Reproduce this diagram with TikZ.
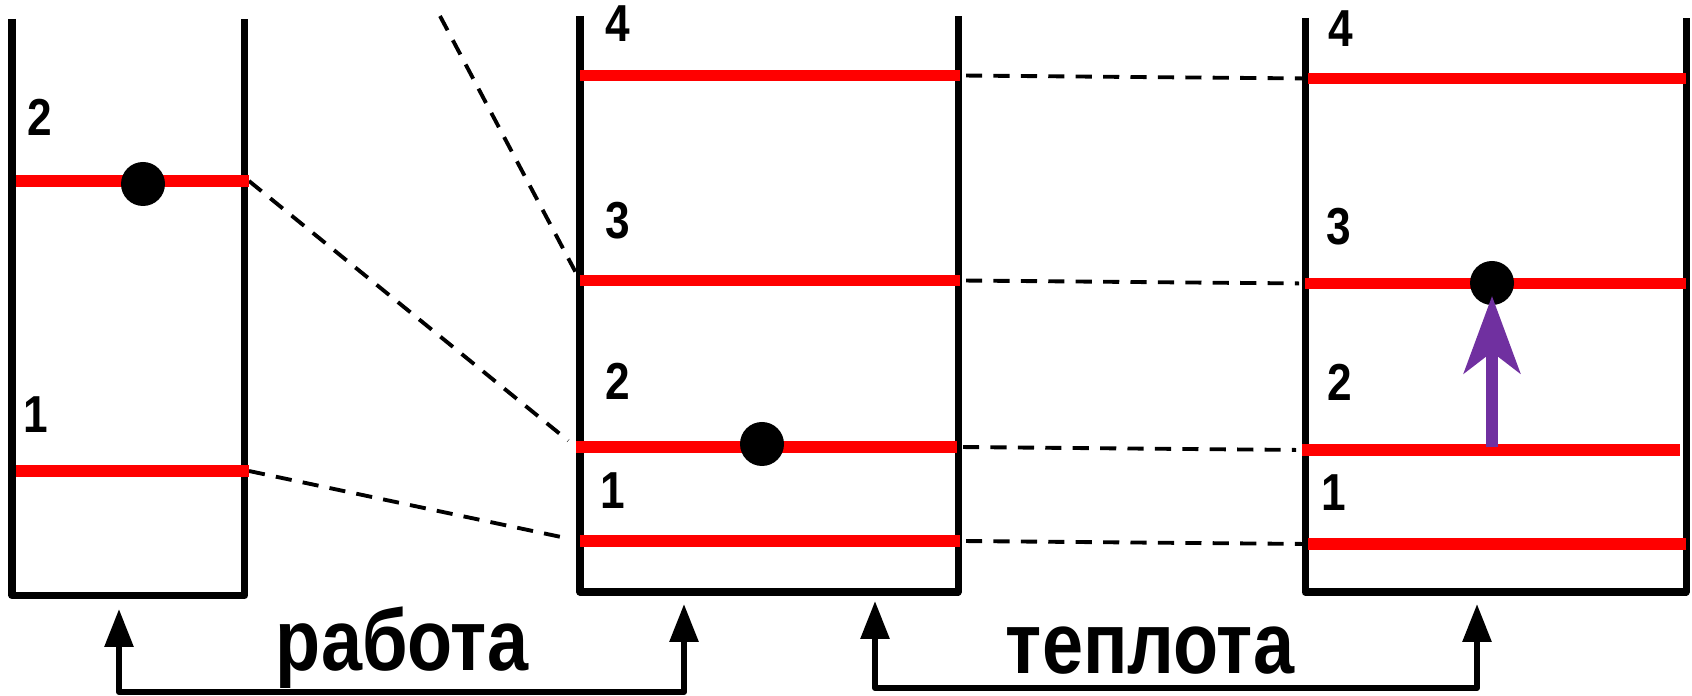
\documentclass[tikz,border=0pt]{standalone}
\usepackage{fontspec}
\setmainfont{Liberation Sans}
\newfontfamily\narrowsans[FakeStretch=0.85]{Liberation Sans}
\usetikzlibrary{arrows.meta, calc}
\definecolor{levelred}{RGB}{255,0,0}
\definecolor{jump}{RGB}{112,48,160}
\tikzset{%
	wall/.style={line width=2pt, line join=round},
	level/.style={line width=3.4pt, levelred},
	link/.style={line width=1.1pt, dash pattern=on 4.6pt off 3.2pt},
	ball/.style={circle, fill=black, minimum size=4.4mm, inner sep=0mm},
	num/.style={font=\narrowsans\bfseries\fontsize{14.8}{16}\selectfont, inner sep=0mm},
	word/.style={font=\narrowsans\bfseries\fontsize{24.7}{28}\selectfont, inner sep=0mm, anchor=base},
	transfer/.style={line width=1.7pt, line join=round,%
		{Triangle[length=3.8mm,width=2.8mm]}-{Triangle[length=3.8mm,width=2.8mm]}},
	excite/.style={line width=3.4pt, jump, -{Stealth[length=7.7mm,width=5.6mm,inset=2.1mm]}}
}

\begin{document}
\begin{tikzpicture}
  \useasboundingbox (0,0) rectangle (16.92,6.96);

  % level ends
  \coordinate (A2l) at (0.16,5.15);  \coordinate (A2r) at (2.49,5.15);
  \coordinate (A1l) at (0.16,2.25);  \coordinate (A1r) at (2.49,2.25);
  \coordinate (B4l) at (5.80,6.205); \coordinate (B4r) at (9.60,6.205);
  \coordinate (B3l) at (5.80,4.155); \coordinate (B3r) at (9.60,4.155);
  \coordinate (B2l) at (5.76,2.49);  \coordinate (B2r) at (9.57,2.49);
  \coordinate (B1l) at (5.80,1.55);  \coordinate (B1r) at (9.60,1.55);
  \coordinate (C4l) at (13.08,6.175); \coordinate (C4r) at (16.86,6.175);
  \coordinate (C3l) at (13.05,4.125); \coordinate (C3r) at (16.86,4.125);
  \coordinate (C2l) at (13.02,2.46);  \coordinate (C2r) at (16.80,2.46);
  \coordinate (C1l) at (13.08,1.52);  \coordinate (C1r) at (16.86,1.52);
  \coordinate (far) at (4.40,6.80);

  \draw[link, shorten >=1mm] (A2r) -- (B2l);
  \draw[link, shorten >=1.2mm] (A1r) -- (B1l);
  \draw[link, shorten >=1mm] (far) -- (B3l);
  \foreach \n in {4,3,2,1}
    \draw[link, shorten <=0.6mm, shorten >=0.6mm] (B\n r) -- (C\n l);

  \draw[wall] (0.12,6.77) -- (0.12,1.005) -- (2.445,1.005) -- (2.445,6.77);
  \draw[wall] (5.80,6.80) -- (5.80,1.04) -- (9.58,1.04) -- (9.58,6.80);
  \draw[wall] (13.05,6.78) -- (13.05,1.04) -- (16.86,1.04) -- (16.86,6.78);

  \foreach \n in {A2,A1,B4,B3,B2,B1,C4,C3,C2,C1}
    \draw[level] (\n l) -- (\n r);

  \node[ball] (e1) at (1.43,5.12) {};
  \node[ball] (e2) at (7.62,2.52) {};
  \node[ball] (e3) at (14.92,4.13) {};

  \coordinate (kick) at (14.92,2.49);
  \draw[excite, shorten >=1.3mm] (kick) -- (e3.center);

  \node[num] (nA2) at (0.40,5.79) {2};
  \node[num] (nA1) at (0.36,2.81) {1};
  \node[num] (nB4) at (6.18,6.72) {4};
  \node[num] (nB3) at (6.18,4.75) {3};
  \node[num] (nB2) at (6.18,3.15) {2};
  \node[num] (nB1) at (6.13,2.05) {1};
  \node[num] (nC4) at (13.41,6.67) {4};
  \node[num] (nC3) at (13.39,4.69) {3};
  \node[num] (nC2) at (13.40,3.14) {2};
  \node[num] (nC1) at (13.34,2.03) {1};

  % transfer brackets
  \coordinate (w1) at (1.19,0.87);  \coordinate (w2) at (6.84,0.92);
  \coordinate (q1) at (8.75,0.95);  \coordinate (q2) at (14.77,0.92);
  \coordinate (floorw) at (0,0.04); \coordinate (floorq) at (0,0.08);
  \draw[transfer] (w1) |- (w2 |- floorw) -- (w2);
  \draw[transfer] (q1) |- (q2 |- floorq) -- (q2);

  \node[word] (work) at (4.02,0.25) {работа};
  \node[word] (heat) at (11.50,0.22) {теплота};
\end{tikzpicture}
\end{document}
